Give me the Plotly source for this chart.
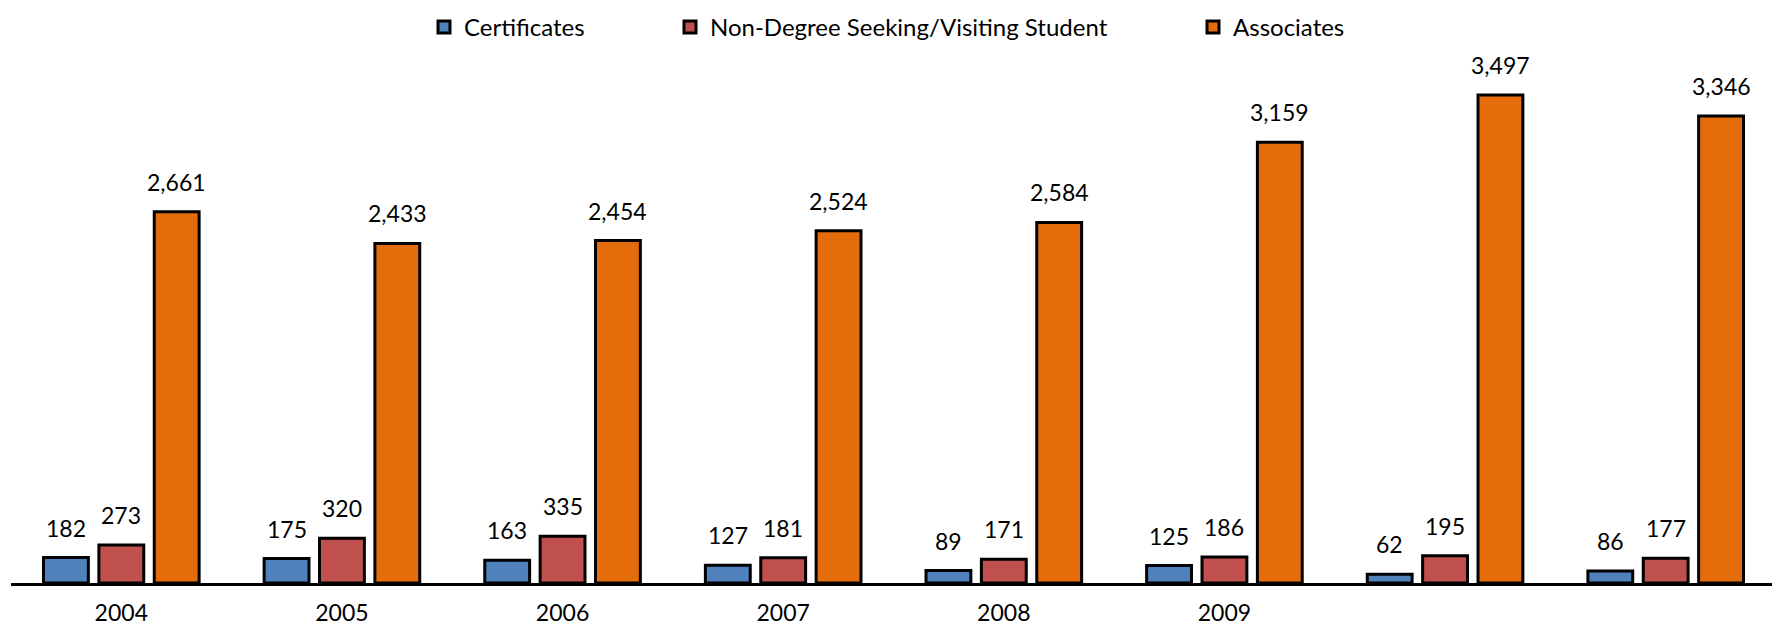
import plotly.graph_objects as go

categories = ["2004", "2005", "2006", "2007", "2008", "2009", "2010", "2011"]
tick_labels = ["2004", "2005", "2006", "2007", "2008", "2009", "", ""]
certificates = [182, 175, 163, 127, 89, 125, 62, 86]
non_degree = [273, 320, 335, 181, 171, 186, 195, 177]
associates = [2661, 2433, 2454, 2524, 2584, 3159, 3497, 3346]

series_names = ["Certificates", "Non-Degree Seeking/Visiting Student", "Associates"]
series_values = [certificates, non_degree, associates]
series_colors = ["#4F81BD", "#C0504D", "#E46C0A"]

font_family = "Lato, 'Open Sans', sans-serif"

# the page body adds an 8px margin around the figure, so size it to fit the window
PAGE_OFF = 8
W, H = 1780 - PAGE_OFF, 631 - PAGE_OFF
ML, MR, MT, MB = 3, 4, 2, 48
plot_w = W - ML - MR
plot_h = H - MT - MB

# legend text start positions (page pixels) for each entry
legend_text_px = [476, 722, 1245]
legend_names = ["legend", "legend2", "legend3"]

BARGAP = 0.247
group_w = plot_w / len(categories)
slot_px = group_w * (1 - BARGAP) / 3

fig = go.Figure()
for i, (name, vals, color) in enumerate(zip(series_names, series_values, series_colors)):
    fig.add_trace(go.Bar(
        x=categories, y=vals, name=name,
        marker=dict(color=color, line=dict(color="black", width=3)),
        legend=legend_names[i],
    ))
    for j, v in enumerate(vals):
        fig.add_annotation(
            x=j, y=v, text=f"{v:,}", showarrow=False,
            xshift=(i - 1) * slot_px, yanchor="bottom", yshift=14,
            font=dict(size=23, color="black", family=font_family),
        )

legend_layout = {}
for i, ln in enumerate(legend_names):
    legend_layout[ln] = dict(
        orientation="h", x=(legend_text_px[i] - PAGE_OFF - 52 - ML) / plot_w, xanchor="left",
        y=1 + 5 / plot_h, yanchor="top",
        font=dict(size=24, family=font_family, color="black"),
        bgcolor="rgba(0,0,0,0)",
    )

fig.update_layout(
    width=W, height=H,
    margin=dict(l=ML, r=MR, t=MT, b=MB, autoexpand=False),
    paper_bgcolor="white", plot_bgcolor="white",
    barmode="group", bargap=BARGAP, bargroupgap=0.19,
    font=dict(family=font_family, size=23, color="black"),
    showlegend=True,
    **legend_layout,
)
fig.update_xaxes(
    type="category", categoryorder="array", categoryarray=categories,
    range=[-0.5, len(categories) - 0.5],
    tickmode="array", tickvals=categories, ticktext=tick_labels,
    showline=True, linecolor="black", linewidth=3, ticks="", showgrid=False,
    tickfont=dict(size=23), ticklabelstandoff=7, automargin=False,
)
fig.update_yaxes(range=[0, 4106], visible=False, showgrid=False, zeroline=False)

fig.write_html("out.html")
